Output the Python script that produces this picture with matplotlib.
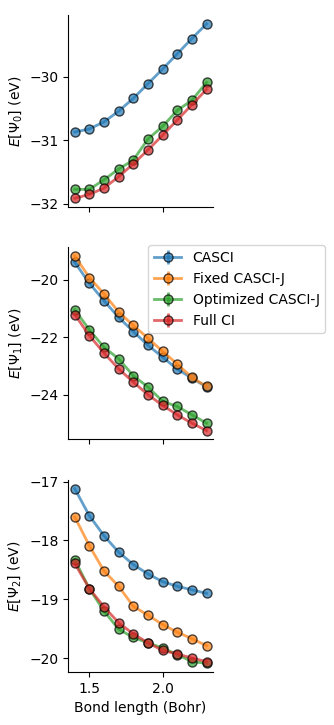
import matplotlib
matplotlib.use("Agg")
from matplotlib import pyplot as plt
import numpy as np

bond = [1.4, 1.5, 1.6, 1.7, 1.8, 1.9, 2.0, 2.1, 2.2, 2.3]

# ground state
casci_0 = [-30.87, -30.82, -30.71, -30.54, -30.34, -30.11, -29.88, -29.64, -29.40, -29.17]
opt_0 = [-31.77, -31.77, -31.62, -31.45, -31.31, -30.98, -30.78, -30.53, -30.37, -30.09]
fci_0 = [-31.91, -31.85, -31.75, -31.57, -31.37, -31.15, -30.92, -30.68, -30.44, -30.20]

# first excited state
casci_1 = [-19.39, -20.12, -20.73, -21.31, -21.80, -22.28, -22.69, -23.11, -23.42, -23.73]
fixed_1 = [-19.17, -19.92, -20.49, -21.12, -21.59, -22.03, -22.49, -22.93, -23.40, -23.71]
opt_1 = [-21.04, -21.74, -22.35, -22.75, -23.34, -23.73, -24.23, -24.41, -24.70, -24.99]
fci_1 = [-21.21, -21.94, -22.55, -23.10, -23.56, -24.00, -24.37, -24.70, -24.99, -25.25]

# second excited state
casci_2 = [-17.12, -17.58, -17.92, -18.20, -18.41, -18.57, -18.70, -18.78, -18.84, -18.90]
fixed_2 = [-17.60, -18.09, -18.52, -18.78, -19.12, -19.27, -19.43, -19.56, -19.67, -19.79]
opt_2 = [-18.33, -18.82, -19.20, -19.51, -19.65, -19.74, -19.83, -19.94, -20.06, -20.09]
fci_2 = [-18.39, -18.82, -19.13, -19.40, -19.59, -19.74, -19.87, -19.93, -20.00, -20.06]

err = np.zeros(len(bond))

fig = plt.figure(figsize=(3.34, 7.25), dpi=100)
ax1 = fig.add_axes([0.204, 0.7145, 0.434, 0.2645])
ax2 = fig.add_axes([0.204, 0.394, 0.434, 0.265])
ax3 = fig.add_axes([0.204, 0.073, 0.434, 0.265])

style = dict(marker='o', markeredgecolor='k', alpha=0.7, markersize=6.5, lw=2)

ax1.errorbar(bond, casci_0, yerr=err, color='C0', label='CASCI', **style)
ax1.errorbar(bond, opt_0, yerr=err, color='C2', label='Optimized CASCI-J', **style)
ax1.errorbar(bond, fci_0, yerr=err, color='C3', label='Full CI', **style)

ax2.errorbar(bond, casci_1, yerr=err, color='C0', label='CASCI', **style)
ax2.errorbar(bond, fixed_1, yerr=err, color='C1', label='Fixed CASCI-J', **style)
ax2.errorbar(bond, opt_1, yerr=err, color='C2', label='Optimized CASCI-J', **style)
ax2.errorbar(bond, fci_1, yerr=err, color='C3', label='Full CI', **style)

ax3.errorbar(bond, casci_2, yerr=err, color='C0', label='CASCI', **style)
ax3.errorbar(bond, fixed_2, yerr=err, color='C1', label='Fixed CASCI-J', **style)
ax3.errorbar(bond, opt_2, yerr=err, color='C2', label='Optimized CASCI-J', **style)
ax3.errorbar(bond, fci_2, yerr=err, color='C3', label='Full CI', **style)

ax1.set_ylabel(r'$E[\Psi_0]$ (eV)')
ax2.set_ylabel(r'$E[\Psi_1]$ (eV)')
ax3.set_ylabel(r'$E[\Psi_2]$ (eV)')
ax3.set_xlabel('Bond length (Bohr)')

for ax in [ax1, ax2, ax3]:
    ax.spines['top'].set_visible(False)
    ax.spines['right'].set_visible(False)
    ax.set_xticks([1.5, 2.0])
for ax in [ax1, ax2]:
    ax.set_xticklabels([])

ax2.legend(loc='upper left', bbox_to_anchor=(0.552, 1.01), borderaxespad=0)

fig.savefig('out.png', dpi=100)
